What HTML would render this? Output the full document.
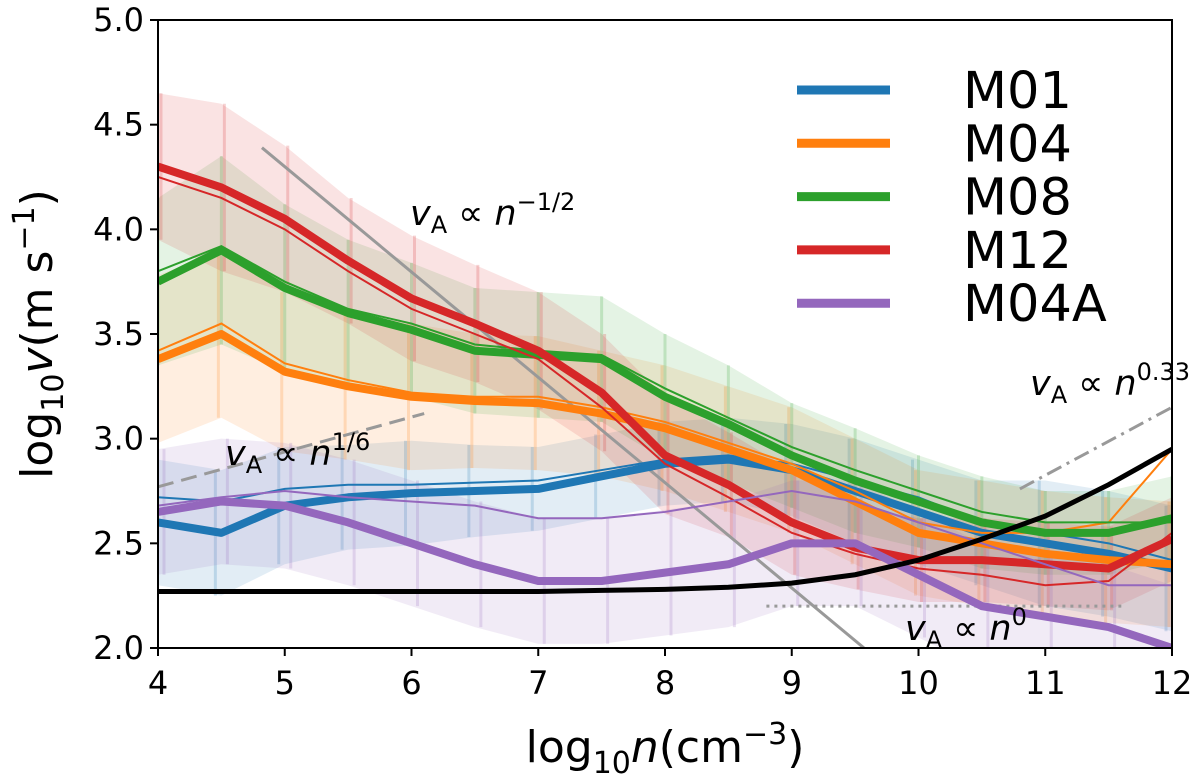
<!DOCTYPE html>
<html><head><meta charset="utf-8"><style>
body{margin:0;background:#fff}
svg{display:block;font-family:"DejaVu Sans","Liberation Sans",sans-serif}
</style></head><body>
<svg id="chart" width="1200" height="782">
<defs><clipPath id="clip"><rect x="158" y="20" width="1014" height="628"/></clipPath></defs>
<g id="bands" clip-path="url(#clip)"></g>
<g id="lines" clip-path="url(#clip)"></g>
<g id="axes"></g>
</svg>
<script>
const xs=[4,4.5,5,5.5,6,6.5,7,7.5,8,8.5,9,9.5,10,10.5,11,11.5,12];
const m01=[2.6,2.55,2.68,2.72,2.74,2.75,2.76,2.82,2.88,2.9,2.85,2.75,2.65,2.55,2.5,2.45,2.38];
const m04=[3.38,3.5,3.32,3.25,3.2,3.18,3.17,3.12,3.05,2.95,2.85,2.7,2.55,2.5,2.45,2.42,2.4];
const m08=[3.75,3.9,3.72,3.6,3.52,3.42,3.4,3.38,3.2,3.07,2.92,2.8,2.7,2.6,2.55,2.55,2.62];
const m12=[4.3,4.2,4.05,3.85,3.67,3.55,3.42,3.22,2.92,2.78,2.6,2.48,2.42,2.42,2.4,2.38,2.52];
const m04a=[2.65,2.7,2.68,2.6,2.5,2.4,2.32,2.32,2.36,2.4,2.5,2.5,2.35,2.2,2.15,2.1,2.0];
const m01thin=[2.72,2.7,2.76,2.78,2.78,2.79,2.8,2.85,2.9,2.92,2.88,2.8,2.72,2.6,2.55,2.5,2.42];
const m04thin=[3.42,3.55,3.36,3.28,3.22,3.2,3.2,3.15,3.08,2.98,2.88,2.75,2.6,2.55,2.55,2.6,2.95];
const m08thin=[3.8,3.92,3.75,3.62,3.55,3.45,3.42,3.4,3.24,3.1,2.96,2.85,2.75,2.65,2.6,2.6,2.6];
const m12thin=[4.25,4.15,4.0,3.8,3.62,3.5,3.38,3.15,2.88,2.72,2.55,2.45,2.38,2.35,2.3,2.32,2.55];
const m04athin=[2.68,2.72,2.75,2.72,2.7,2.68,2.62,2.62,2.65,2.7,2.75,2.7,2.6,2.5,2.4,2.3,2.3];
const errM01=[0.3,0.3,0.28,0.25,0.25,0.22,0.2,0.2,0.2,0.2,0.22,0.25,0.25,0.25,0.3,0.3,0.3];
const errM04=[0.4,0.4,0.38,0.35,0.35,0.32,0.32,0.3,0.3,0.3,0.3,0.3,0.3,0.3,0.3,0.3,0.3];
const errM08=[0.4,0.45,0.4,0.35,0.32,0.3,0.3,0.3,0.3,0.28,0.25,0.25,0.22,0.22,0.2,0.2,0.2];
const errM12=[0.35,0.4,0.35,0.3,0.3,0.28,0.28,0.28,0.28,0.25,0.25,0.2,0.2,0.2,0.2,0.2,0.2];
const errM04A=[0.3,0.3,0.3,0.3,0.3,0.3,0.3,0.3,0.3,0.3,0.3,0.3,0.3,0.3,0.3,0.3,0.3];
const alfven=[2.27,2.27,2.27,2.27,2.27,2.27,2.27,2.275,2.28,2.29,2.31,2.35,2.42,2.52,2.63,2.78,2.95];
const xTicks=[4,5,6,7,8,9,10,11,12];
const yTicks=[2.0,2.5,3.0,3.5,4.0,4.5,5.0];
const legendNames=["M01","M04","M08","M12","M04A"];
const colors=["#1f77b4","#ff7f0e","#2ca02c","#d62728","#9467bd"];
const X=v=>158+(v-4)*126.75, Y=v=>648-(v-2)*209.33;
const NS="http://www.w3.org/2000/svg";
function mk(tag,attrs,parent){const e=document.createElementNS(NS,tag);for(const k in attrs)e.setAttribute(k,attrs[k]);parent.appendChild(e);return e;}
const bands=document.getElementById('bands'),lines=document.getElementById('lines'),axes=document.getElementById('axes');
const mains=[m01,m04,m08,m12,m04a],thins=[m01thin,m04thin,m08thin,m12thin,m04athin],errs=[errM01,errM04,errM08,errM12,errM04A];
const keys=["m01","m04","m08","m12","m04a"];
mains.forEach((s,i)=>{
  const up=s.map((v,j)=>X(xs[j])+','+Y(v+errs[i][j])),dn=s.map((v,j)=>X(xs[j])+','+Y(v-errs[i][j])).reverse();
  const p=mk('polygon',{points:up.concat(dn).join(' '),fill:colors[i],opacity:0.13},bands);
  
  
  xs.forEach((x,j)=>{const b=mk('line',{x1:X(x)+(i-2)*3,x2:X(x)+(i-2)*3,y1:Y(s[j]+errs[i][j]),y2:Y(s[j]-errs[i][j]),stroke:colors[i],'stroke-width':3,opacity:0.2},bands);
    
    });
});
function path(arr){return arr.map((v,j)=>(j?'L':'M')+X(xs[j])+','+Y(v)).join(' ');}
const refs=[
 {n:'slope-minus-half',d:`M${X(4.82)},${Y(4.39)} L${X(9.57)},${Y(2.0)}`,dash:'',c:'#999'},
 {n:'slope-one-sixth',d:`M${X(4)},${Y(2.77)} L${X(6.1)},${Y(3.12)}`,dash:'16,8',c:'#999'},
 {n:'slope-0.33',d:`M${X(10.8)},${Y(2.76)} L${X(12)},${Y(3.15)}`,dash:'16,6,3,6',c:'#999'},
 {n:'slope-zero',d:`M${X(8.8)},${Y(2.2)} L${X(11.6)},${Y(2.2)}`,dash:'3,5',c:'#999'}];
refs.forEach(r=>{const e=mk('path',{d:r.d,stroke:r.c,'stroke-width':3,fill:'none','stroke-dasharray':r.dash},lines);
  
  });
mains.forEach((s,i)=>{
  const t=mk('path',{d:path(thins[i]),stroke:colors[i],'stroke-width':2,fill:'none'},lines);
  
  
  const m=mk('path',{d:path(s),stroke:colors[i],'stroke-width':8,fill:'none','stroke-linejoin':'round'},lines);
  
  
});
const al=mk('path',{d:path(alfven),stroke:'#000','stroke-width':5,fill:'none'},lines);


const fr=mk('rect',{x:158,y:20,width:1014,height:628,fill:'none',stroke:'#000','stroke-width':2},axes);


xTicks.forEach(t=>{mk('line',{x1:X(t),x2:X(t),y1:648,y2:656,stroke:'#000','stroke-width':2},axes);
  const tx=mk('text',{x:X(t),y:694,'font-size':32,'text-anchor':'middle'},axes);tx.textContent=t;
  
  });
yTicks.forEach(t=>{mk('line',{x1:150,x2:158,y1:Y(t),y2:Y(t),stroke:'#000','stroke-width':2},axes);
  const tx=mk('text',{x:144,y:Y(t)+11,'font-size':32,'text-anchor':'end'},axes);tx.textContent=t.toFixed(1);
  
  });
legendNames.forEach((n,i)=>{const y=90+i*53.3;
  const l=mk('line',{x1:797,x2:890,y1:y,y2:y,stroke:colors[i],'stroke-width':9},axes);
  
  
  const t=mk('text',{x:963,y:y+18,'font-size':51},axes);t.textContent=n;
  
  });
</script>
<svg style="position:absolute;left:0;top:0" width="1200" height="782" font-family="DejaVu Sans, Liberation Sans, sans-serif">
<text x="665" y="762" font-size="44" text-anchor="middle">log<tspan font-size="30" dy="11">10</tspan><tspan dy="-11" font-style="italic">n</tspan>(cm<tspan font-size="30" dy="-18">−3</tspan><tspan dy="18">)</tspan></text>
<text transform="translate(52,334) rotate(-90)" font-size="44" text-anchor="middle">log<tspan font-size="30" dy="11">10</tspan><tspan dy="-11" font-style="italic">v</tspan>(m s<tspan font-size="30" dy="-18">−1</tspan><tspan dy="18">)</tspan></text>
<text x="410" y="225" font-size="35"><tspan font-style="italic">v</tspan><tspan font-size="24" dy="8">A</tspan><tspan dy="-8"> ∝ </tspan><tspan font-style="italic">n</tspan><tspan font-size="24" dy="-15">−1/2</tspan></text>
<text x="225" y="465" font-size="35"><tspan font-style="italic">v</tspan><tspan font-size="24" dy="8">A</tspan><tspan dy="-8"> ∝ </tspan><tspan font-style="italic">n</tspan><tspan font-size="24" dy="-15">1/6</tspan></text>
<text x="1030" y="395" font-size="35"><tspan font-style="italic">v</tspan><tspan font-size="24" dy="8">A</tspan><tspan dy="-8"> ∝ </tspan><tspan font-style="italic">n</tspan><tspan font-size="24" dy="-15">0.33</tspan></text>
<text x="905" y="640" font-size="35"><tspan font-style="italic">v</tspan><tspan font-size="24" dy="8">A</tspan><tspan dy="-8"> ∝ </tspan><tspan font-style="italic">n</tspan><tspan font-size="24" dy="-15">0</tspan></text>
</svg>
</body></html>
